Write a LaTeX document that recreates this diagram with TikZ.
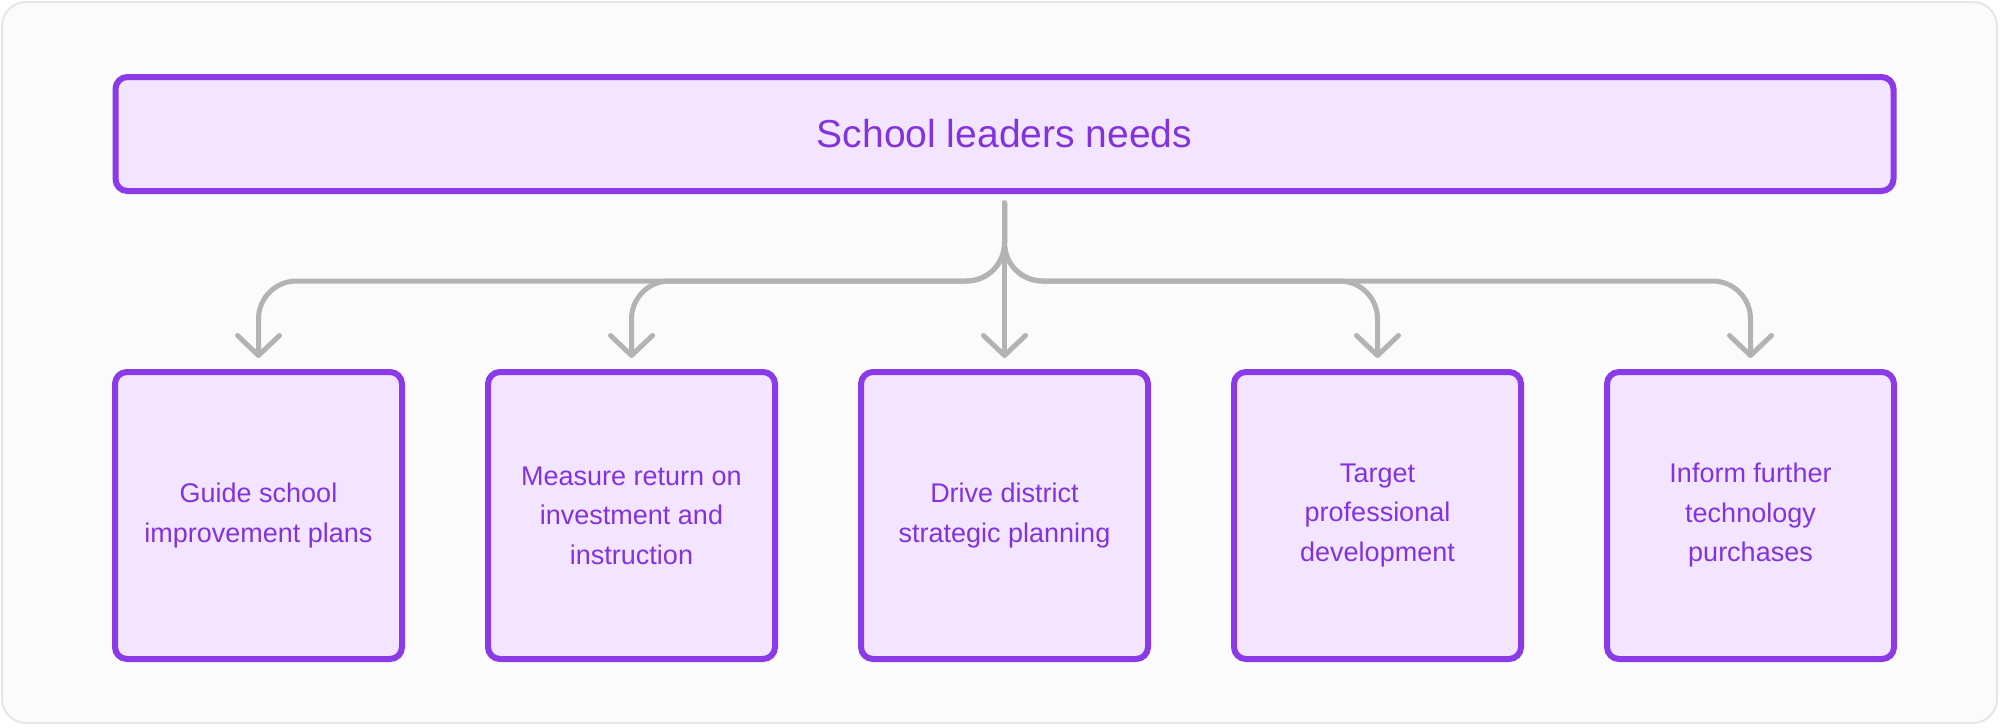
\documentclass[tikz,border=0pt]{standalone}
\usepackage{fontspec}
\setmainfont{Liberation Sans}
\usetikzlibrary{arrows.meta, positioning}
\definecolor{needline}{HTML}{8A3AE6}
\definecolor{needfill}{HTML}{F3E5FF}
\definecolor{needtext}{HTML}{8233DD}
\definecolor{linkgray}{HTML}{B3B3B3}
\definecolor{framegray}{HTML}{E6E6E6}
\definecolor{pagegray}{HTML}{FBFBFB}
\tikzset{
    headbox/.style={rectangle, draw=needline, line width=6pt, fill=needfill, text=needtext, rounded corners=12pt, outer sep=0pt, minimum width=1778pt, minimum height=114pt, font=\fontsize{39}{47}\selectfont},
    needbox/.style={rectangle, draw=needline, line width=6pt, fill=needfill, text=needtext, rounded corners=12pt, outer sep=0pt, minimum width=287pt, minimum height=287pt, align=center, font=\fontsize{27}{39.5}\selectfont},
    conn/.style={draw=linkgray, line width=5pt, line cap=round, rounded corners=38pt, -{Straight Barb[length=20pt, width=42pt, round]}}
}
\begin{document}
\begin{tikzpicture}[x=1pt, y=-1pt]
    \useasboundingbox (0,0) rectangle (2000,728);
    \draw[draw=framegray, fill=pagegray, line width=2pt, rounded corners=24pt] (2,2) rectangle (1997,723);
    % top and the five needs
    \node[headbox] (head) at (1004.5,134) {School leaders needs};
    \node[needbox] (guide) at (258.5,515.5) {Guide school\\improvement plans};
    \node[needbox, right=86pt of guide] (measure) {Measure return on\\investment and\\instruction};
    \node[needbox, right=86pt of measure] (drive) {Drive district\\strategic planning};
    \node[needbox, right=86pt of drive] (target) {Target\\professional\\development};
    \node[needbox, right=86pt of target] (inform) {Inform further\\technology\\purchases};
    % connectors
    \draw[conn] ([yshift=-12pt]head.south) -- ([yshift=14pt]drive.north);
    \foreach \n in {guide, measure, target, inform}
        \draw[conn] ([yshift=-12pt]head.south) -- ++(0,78) -| ([yshift=14pt]\n.north);
\end{tikzpicture}
\end{document}
